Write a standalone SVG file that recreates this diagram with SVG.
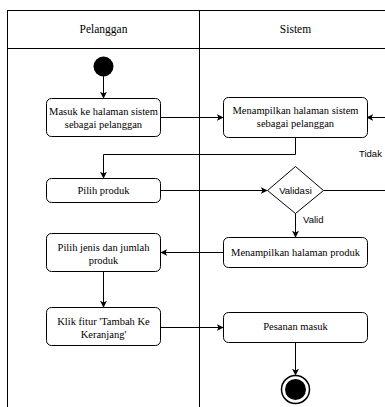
<svg xmlns="http://www.w3.org/2000/svg" width="385" height="407" viewBox="0 0 385 407">
  <defs>
    <marker id="arrow" viewBox="0 0 10 10" refX="9" refY="5" markerWidth="7" markerHeight="7" orient="auto" markerUnits="userSpaceOnUse">
      <path d="M0,0 L10,5 L0,10 L2.5,5 Z" fill="#000"/>
    </marker>
    <style>
      .lane { fill: #fff; stroke: #000; stroke-width: 1; }
      .act { fill: #fff; stroke: #000; stroke-width: 1; }
      .edge { fill: none; stroke: #000; stroke-width: 1; marker-end: url(#arrow); }
      .line { fill: none; stroke: #000; stroke-width: 1; }
      .t { font-size: 10.5px; fill: #000; text-anchor: middle; }
      .h { font-size: 11.5px; fill: #000; text-anchor: middle; }
      .s { font-size: 9.5px; fill: #000; }
    </style>
  </defs>
  <rect width="385" height="407" fill="#fff"/>

  <!-- swimlanes -->
  <g id="lanes" font-family="Liberation Serif, Times New Roman, Times, serif">
    <rect class="lane" x="7.5" y="10.5" width="192" height="420"/>
    <rect class="lane" x="199.5" y="10.5" width="192" height="420"/>
    <line class="line" x1="7.5" y1="48.5" x2="391.5" y2="48.5"/>
    <text class="h" x="103.5" y="33">Pelanggan</text>
    <text class="h" x="295.5" y="33">Sistem</text>
  </g>

  <!-- connectors -->
  <g id="connectors" font-family="Liberation Sans, Arial, Helvetica, sans-serif">
    <path class="edge" d="M103.5,76 L103.5,98"/>
    <path class="edge" d="M161,117.5 L223,117.5"/>
    <path class="edge" d="M390,117.5 L367,117.5"/>
    <path class="edge" d="M295.5,138 L295.5,154.5 L103.5,154.5 L103.5,178"/>
    <path class="edge" d="M161,190.5 L267,190.5"/>
    <path class="line" d="M323,190.5 L390,190.5"/>
    <text class="s" x="359" y="157">Tidak</text>
    <path class="edge" d="M295.5,213 L295.5,237"/>
    <text class="s" x="303" y="223">Valid</text>
    <path class="edge" d="M223,252.5 L161,252.5"/>
    <path class="edge" d="M103.5,272 L103.5,307"/>
    <path class="edge" d="M161,327.5 L223,327.5"/>
    <path class="edge" d="M295.5,343 L295.5,375"/>
  </g>

  <!-- start -->
  <g id="start">
    <circle cx="103.5" cy="66.5" r="10" fill="#000"/>
  </g>

  <g id="masuk" font-family="Liberation Serif, Times New Roman, Times, serif">
    <rect class="act" x="46.5" y="98.5" width="114" height="38" rx="5"/>
    <text class="t" x="103.5" y="115">Masuk ke halaman sistem</text>
    <text class="t" x="103.5" y="128">sebagai pelanggan</text>
  </g>

  <g id="tampil-sistem" font-family="Liberation Serif, Times New Roman, Times, serif">
    <rect class="act" x="223.5" y="97.5" width="144" height="40" rx="5"/>
    <text class="t" x="295.5" y="114">Menampilkan halaman sistem</text>
    <text class="t" x="295.5" y="127">sebagai pelanggan</text>
  </g>

  <g id="pilih-produk" font-family="Liberation Serif, Times New Roman, Times, serif">
    <rect class="act" x="46.5" y="178.5" width="114" height="24" rx="5"/>
    <text class="t" x="103.5" y="194">Pilih produk</text>
  </g>

  <g id="validasi" font-family="Liberation Sans, Arial, Helvetica, sans-serif">
    <path class="act" d="M295.5,166.5 L323.5,190.5 L295.5,213.5 L267.5,190.5 Z"/>
    <text class="s" x="295.5" y="193.5" text-anchor="middle">Validasi</text>
  </g>

  <g id="tampil-produk" font-family="Liberation Serif, Times New Roman, Times, serif">
    <rect class="act" x="223.5" y="237.5" width="144" height="30" rx="5"/>
    <text class="t" x="295.5" y="256">Menampilkan halaman produk</text>
  </g>

  <g id="pilih-jenis" font-family="Liberation Serif, Times New Roman, Times, serif">
    <rect class="act" x="46.5" y="233.5" width="114" height="38" rx="5"/>
    <text class="t" x="103.5" y="251">Pilih jenis dan jumlah</text>
    <text class="t" x="103.5" y="264">produk</text>
  </g>

  <g id="klik-tambah" font-family="Liberation Serif, Times New Roman, Times, serif">
    <rect class="act" x="46.5" y="307.5" width="114" height="38" rx="5"/>
    <text class="t" x="103.5" y="325">Klik fitur 'Tambah Ke</text>
    <text class="t" x="103.5" y="338">Keranjang'</text>
  </g>

  <g id="pesanan" font-family="Liberation Serif, Times New Roman, Times, serif">
    <rect class="act" x="223.5" y="312.5" width="144" height="30" rx="5"/>
    <text class="t" x="295.5" y="330">Pesanan masuk</text>
  </g>

  <!-- end -->
  <g id="end">
    <circle cx="295.5" cy="389.5" r="14" fill="#fff" stroke="#000" stroke-width="1.5"/>
    <circle cx="295.5" cy="389.5" r="10.5" fill="#000"/>
  </g>
</svg>
